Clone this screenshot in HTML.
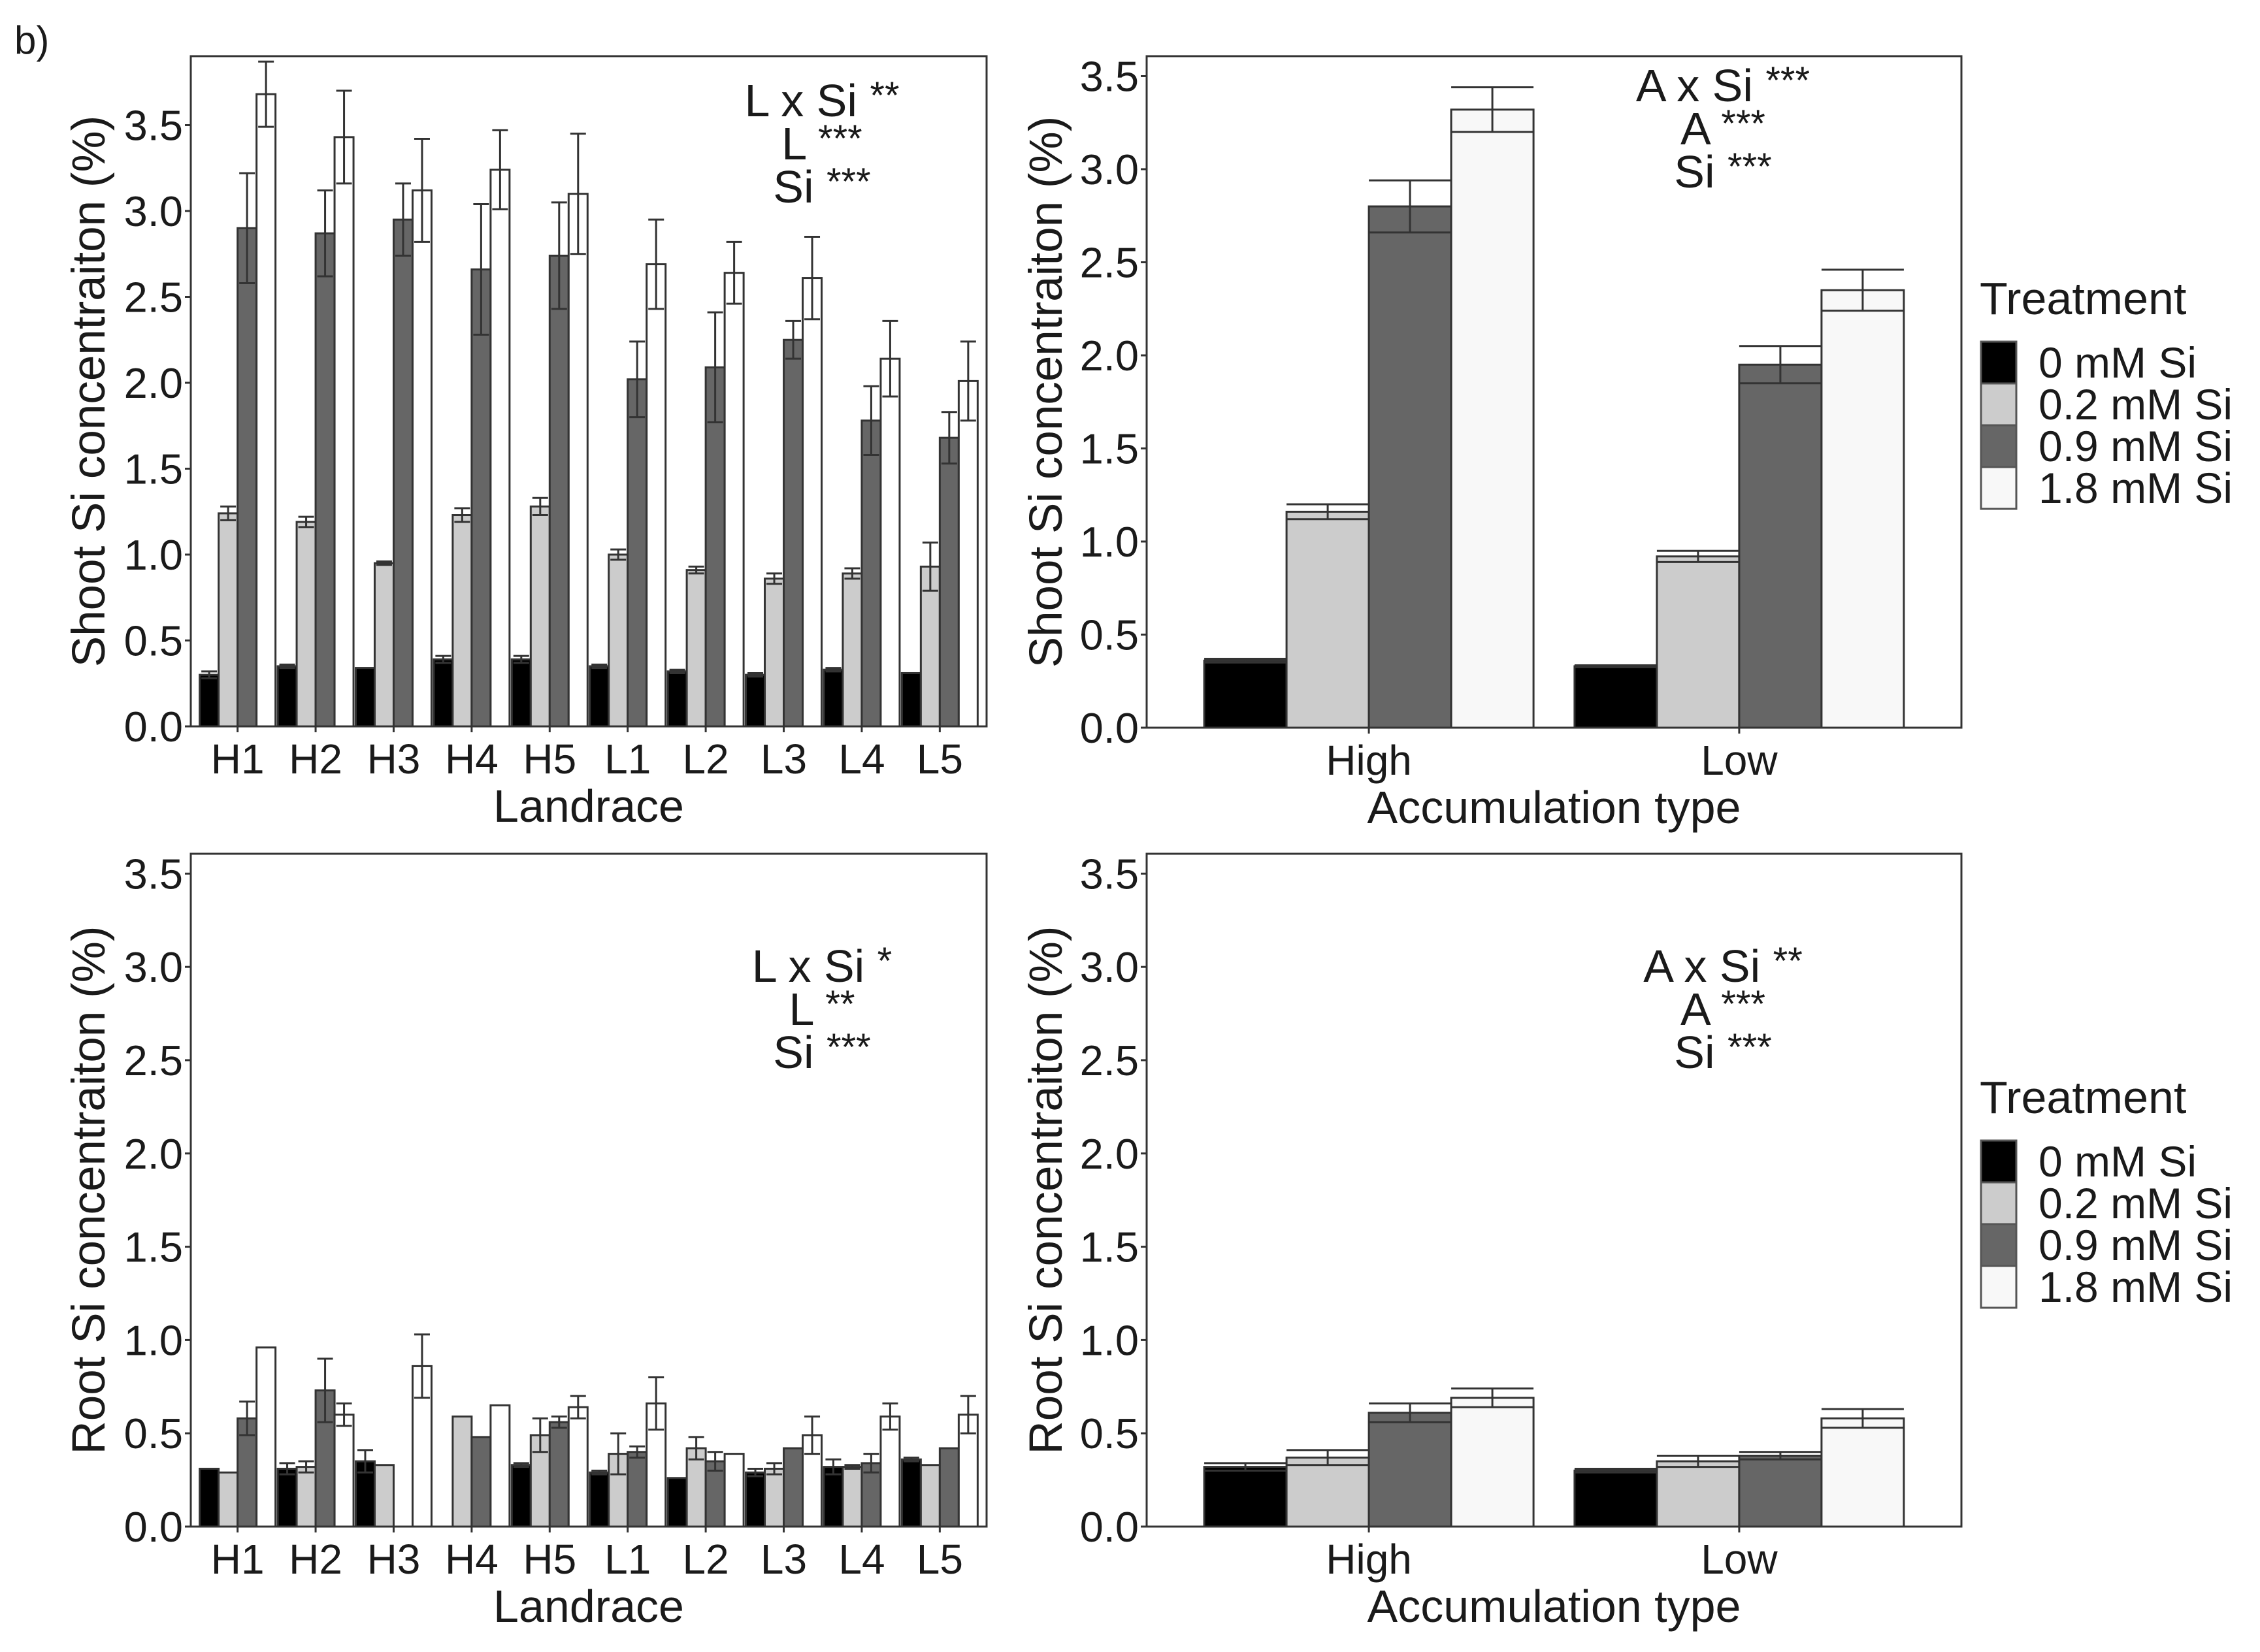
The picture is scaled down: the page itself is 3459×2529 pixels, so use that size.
<!DOCTYPE html>
<html><head><meta charset="utf-8"><style>
html,body{margin:0;padding:0;background:#fff}
svg{display:block}
text{font-family:"Liberation Sans",sans-serif;fill:#1a1a1a}
</style></head><body>
<svg id="fig" width="3459" height="2529" viewBox="0 0 3459 2529" xmlns="http://www.w3.org/2000/svg">
<text x="22" y="82" font-size="60">b)</text>
</svg>
<script>
const landraces = ["H1","H2","H3","H4","H5","L1","L2","L3","L4","L5"];
const accTypes = ["High","Low"];
const treatments = ["0 mM Si","0.2 mM Si","0.9 mM Si","1.8 mM Si"];
const yTicks = [0,0.5,1,1.5,2,2.5,3,3.5];
// shoot by landrace [0, 0.2, 0.9, 1.8]
const shootL_mean = [[0.30,1.24,2.90,3.68],[0.35,1.19,2.87,3.43],[0.34,0.95,2.95,3.12],[0.39,1.23,2.66,3.24],[0.39,1.28,2.74,3.10],[0.35,1.00,2.02,2.69],[0.32,0.91,2.09,2.64],[0.30,0.86,2.25,2.61],[0.33,0.89,1.78,2.14],[0.31,0.93,1.68,2.01]];
const shootL_err = [[0.02,0.04,0.32,0.19],[0.01,0.03,0.25,0.27],[0,0.01,0.21,0.30],[0.02,0.04,0.38,0.23],[0.02,0.05,0.31,0.35],[0.01,0.03,0.22,0.26],[0.01,0.02,0.32,0.18],[0.01,0.03,0.11,0.24],[0.01,0.03,0.20,0.22],[0,0.14,0.15,0.23]];
const shootA_mean = [[0.36,1.16,2.80,3.32],[0.33,0.92,1.95,2.35]];
const shootA_err = [[0.01,0.04,0.14,0.12],[0.005,0.03,0.10,0.11]];
// root by landrace (null = missing bar)
const rootL_mean = [[0.31,0.29,0.58,0.96],[0.31,0.32,0.73,0.60],[0.35,0.33,null,0.86],[null,0.59,0.48,0.65],[0.33,0.49,0.56,0.64],[0.29,0.39,0.40,0.66],[0.26,0.42,0.35,0.39],[0.29,0.31,0.42,0.49],[0.32,0.32,0.34,0.59],[0.36,0.33,0.42,0.60]];
const rootL_err = [[0,0,0.09,0],[0.03,0.03,0.17,0.06],[0.06,0,0,0.17],[0,0,0,0],[0.01,0.09,0.03,0.06],[0.01,0.11,0.03,0.14],[0,0.06,0.05,0],[0.02,0.03,0,0.10],[0.04,0.01,0.05,0.07],[0.01,0,0,0.10]];
const rootA_mean = [[0.32,0.37,0.61,0.69],[0.30,0.35,0.38,0.58]];
const rootA_err = [[0.02,0.04,0.05,0.05],[0.01,0.03,0.02,0.05]];

const NS="http://www.w3.org/2000/svg";
const svg=document.getElementById('fig');
function el(tag,attrs,parent){const e=document.createElementNS(NS,tag);for(const k in attrs)e.setAttribute(k,attrs[k]);(parent||svg).appendChild(e);return e;}

function panel(p){
  const g=el('g',{});
  
  
  const y=v=>p.y0-v*p.unit;
  const n=p.cats.length;
  const step=(p.x1-p.x0)/(n+0.2);
  const cx=i=>p.x0+step*(0.6+i);
  const bw=p.bw;
  const fills=p.fills;
  p.means.forEach((row,i)=>{
    row.forEach((m,j)=>{
      if(m===null)return;
      const x=cx(i)-2*bw+j*bw;
      const r=el('rect',{x:x,y:y(m),width:bw,height:p.y0-y(m),fill:fills[j],stroke:'#333','stroke-width':3},g);
      
      
      const e=p.errs[i][j];
      if(e>0){
        const xc=x+bw/2, cw=p.capw;
        const eg=el('g',{stroke:'#333','stroke-width':3},g);
        
        
        el('line',{x1:xc,x2:xc,y1:y(m-e),y2:y(m+e)},eg);
        el('line',{x1:xc-cw/2,x2:xc+cw/2,y1:y(m+e),y2:y(m+e)},eg);
        el('line',{x1:xc-cw/2,x2:xc+cw/2,y1:y(m-e),y2:y(m-e)},eg);
      }
    });
  });
  const box=el('rect',{x:p.x0,y:p.top,width:p.x1-p.x0,height:p.y0-p.top,fill:'none',stroke:'#333','stroke-width':3},g);
  
  
  yTicks.forEach(t=>{
    el('line',{x1:p.x0-9,x2:p.x0,y1:y(t),y2:y(t),stroke:'#333','stroke-width':3},g);
    const tx=el('text',{x:p.x0-12,y:y(t)+23,'font-size':65,'text-anchor':'end',fill:'#333'},g);
    tx.textContent=t.toFixed(1);
    
    
  });
  p.cats.forEach((c,i)=>{
    el('line',{x1:cx(i),x2:cx(i),y1:p.y0,y2:p.y0+9,stroke:'#333','stroke-width':3},g);
    const tx=el('text',{x:cx(i),y:p.y0+72,'font-size':64,'text-anchor':'middle',fill:'#1a1a1a'},g);
    tx.textContent=c;
    
    
  });
  const xt=el('text',{x:(p.x0+p.x1)/2,y:p.y0+146,'font-size':70,'text-anchor':'middle'},g);
  xt.textContent=p.xtitle;
  
  
  const ymid=(p.top+p.y0)/2;
  const yt=el('text',{x:p.ytx,y:ymid,'font-size':71,'text-anchor':'middle',transform:'rotate(-90 '+p.ytx+' '+ymid+')'},g);
  yt.textContent=p.ytitle;
  
  
  p.ann.forEach((a,k)=>{
    const t=el('text',{x:p.annX,y:p.annY+k*66,'font-size':70,'text-anchor':'middle'},g);
    
    
    const s1=el('tspan',{},t);s1.textContent=a[0]+' ';
    const s2=el('tspan',{'font-size':58,dy:-12},t);s2.textContent=a[1];
  });
}
function legend(top){
  const g=el('g',{});
  
  
  const t=el('text',{x:3030,y:top,'font-size':70},g);
  t.textContent='Treatment';
  
  
  const f=['#000000','#cccccc','#666666','#f8f8f8'];
  treatments.forEach((tr,i)=>{
    const yy=top+42+i*64;
    const r=el('rect',{x:3032,y:yy,width:54,height:64,fill:f[i],stroke:'#555','stroke-width':3},g);
    
    
    const l=el('text',{x:3120,y:yy+55,'font-size':66},g);
    l.textContent=tr;
    
    
  });
}
const fL=['#000000','#cccccc','#666666','#ffffff'];
const fA=['#000000','#cccccc','#666666','#f8f8f8'];
panel({name:'shoot-landrace-chart',cats:landraces,means:shootL_mean,errs:shootL_err,x0:292,x1:1510,top:86,y0:1112,unit:263,bw:29,capw:24,fills:fL,xtitle:'Landrace',ytitle:'Shoot Si concentraiton (%)',ytx:160,annX:1258,annY:178,ann:[['L x Si','**'],['L','***'],['Si','***']]});
panel({name:'shoot-accumulation-chart',cats:accTypes,means:shootA_mean,errs:shootA_err,x0:1755,x1:3002,top:86,y0:1114,unit:285,bw:126,capw:126,fills:fA,xtitle:'Accumulation type',ytitle:'Shoot Si concentraiton (%)',ytx:1625,annX:2637,annY:155,ann:[['A x Si','***'],['A','***'],['Si','***']]});
panel({name:'root-landrace-chart',cats:landraces,means:rootL_mean,errs:rootL_err,x0:292,x1:1510,top:1307,y0:2337,unit:285.6,bw:29,capw:24,fills:fL,xtitle:'Landrace',ytitle:'Root Si concentraiton (%)',ytx:160,annX:1258,annY:1503,ann:[['L x Si','*'],['L','**'],['Si','***']]});
panel({name:'root-accumulation-chart',cats:accTypes,means:rootA_mean,errs:rootA_err,x0:1755,x1:3002,top:1307,y0:2337,unit:285.6,bw:126,capw:126,fills:fA,xtitle:'Accumulation type',ytitle:'Root Si concentraiton (%)',ytx:1625,annX:2637,annY:1503,ann:[['A x Si','**'],['A','***'],['Si','***']]});
legend(481);
legend(1704);
</script>
</body></html>
